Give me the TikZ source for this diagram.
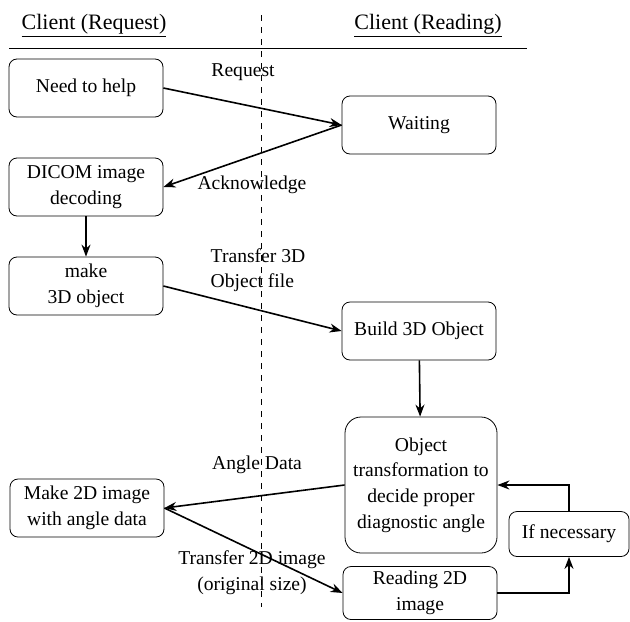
\documentclass[tikz,border=0pt]{standalone}
\usepackage{fontspec}
\setmainfont{Liberation Serif}
\usetikzlibrary{arrows.meta}

\begin{document}
\begin{tikzpicture}[x=0.5pt,y=-0.5pt,font=\fontsize{9.8}{12.8}\selectfont,
    box/.style={draw, rounded corners=4pt, minimum width=77pt, minimum height=29pt, align=center, inner sep=2pt},
    head/.style={font=\fontsize{11}{13}\selectfont},
    lbl/.style={align=left, inner sep=1pt},
    arr/.style={-{Stealth[length=6pt,width=4.5pt]}, line width=0.8pt}]
  \useasboundingbox (0,0) rectangle (630,621);

  % lane headers and dividers
  \node[head] (hreq) at (94,26) {\underline{Client (Request)}};
  \node[head] (hread) at (428,26) {\underline{Client (Reading)}};
  \coordinate (rulel) at (9,48);
  \coordinate (ruler) at (527,48);
  \coordinate (divt) at (261,15);
  \coordinate (divb) at (261,607);
  \draw (rulel) -- (ruler);
  \draw[dashed] (divt) -- (divb);

  % left lane
  \node[box] (need) at (86,88) {Need to help};
  \node[box] (dicom) at (86,187) {DICOM image\\decoding};
  \node[box] (make3d) at (86,286) {make\\3D object};
  \node[box] (make2d) at (87,508) {Make 2D image\\with angle data};

  % right lane
  \node[box] (wait) at (419,125) {Waiting};
  \node[box] (build) at (419,331) {Build 3D Object};
  \node[box, rounded corners=8pt, minimum width=76pt, minimum height=68pt] (trans) at (421,485) {Object\\transformation to\\decide proper\\diagnostic angle};
  \node[box, minimum height=26.5pt] (read2d) at (420,593) {Reading 2D\\image};
  \node[box, minimum width=60pt, minimum height=22.5pt] (ifnec) at (569,534) {If necessary};

  % connector labels
  \node[lbl] (lreq) at (243,72) {Request};
  \node[lbl] (lack) at (252,185) {Acknowledge};
  \node[lbl] (l3d) at (258,270) {Transfer 3D\\Object file};
  \node[lbl] (lang) at (257,465) {Angle Data};
  \node[lbl, align=center] (l2d) at (252,573) {Transfer 2D image\\(original size)};

  % arrows
  \draw[arr] (need.east) -- (wait.west);
  \draw[arr] (wait.west) -- (dicom.east);
  \draw[arr] (dicom) -- (make3d);
  \draw[arr] (make3d.east) -- (build.west);
  \draw[arr] (build) -- (trans);
  \draw[arr] (trans.west) -- (make2d.east);
  \draw[arr] (make2d.east) -- (read2d.west);
  \draw[arr] (read2d.east) -| (ifnec.south);
  \draw[arr] (ifnec.north) |- (trans.east);
\end{tikzpicture}
\end{document}
